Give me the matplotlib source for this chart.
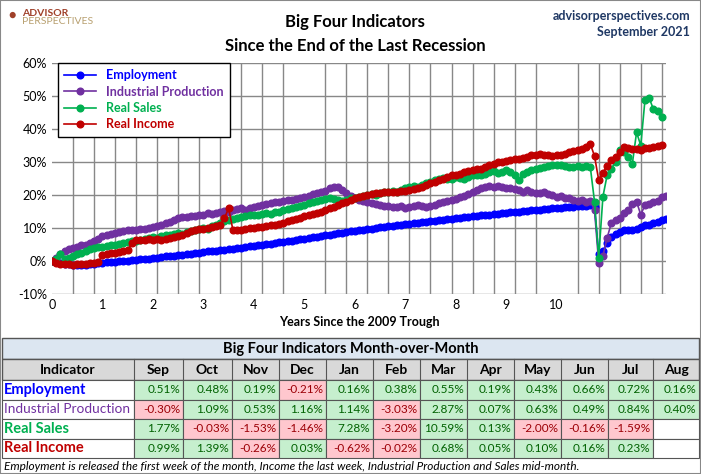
import matplotlib
matplotlib.use("Agg")
import matplotlib.pyplot as plt
import matplotlib.patches as mpatches
import numpy as np

plt.rcParams['font.family'] = ['Lato', 'DejaVu Sans']

# monthly % change since June 2009 trough (month 0 = Jun 2009)
employment = [
    0, -0.3, -0.5, -0.8, -1.0, -1.1, -1.2, -1.2, -1.1, -0.9, -0.9, -0.6,
    -0.5, -0.4, -0.3, -0.2, -0.1, 0.0, 0.1, 0.3, 0.4, 0.5, 0.6, 0.7,
    0.9, 1.0, 1.2, 1.4, 1.5, 1.6, 1.8, 1.9, 2.0, 2.2, 2.4, 2.5,
    2.7, 2.9, 3.0, 3.1, 3.3, 3.4, 3.6, 3.7, 3.9, 4.0, 4.2, 4.4,
    4.5, 4.7, 4.9, 5.1, 5.3, 5.5, 5.7, 5.8, 6.0, 6.2, 6.4, 6.6,
    6.8, 7.0, 7.2, 7.4, 7.6, 7.8, 8.0, 8.2, 8.4, 8.6, 8.8, 9.0,
    9.2, 9.3, 9.5, 9.7, 9.8, 10.0, 10.2, 10.3, 10.5, 10.6, 10.8, 11.0,
    11.1, 11.3, 11.4, 11.6, 11.7, 11.9, 12.0, 12.2, 12.3, 12.5, 12.6, 12.8,
    12.9, 13.0, 13.2, 13.3, 13.5, 13.6, 13.8, 13.9, 14.0, 14.2, 14.3, 14.5,
    14.6, 14.7, 14.9, 15.0, 15.1, 15.2, 15.4, 15.5, 15.6, 15.8, 15.9, 16.0,
    16.1, 16.2, 16.3, 16.4, 16.5, 16.6, 16.7, 16.8, 16.9,
    16.3, 2.0, 3.0, 5.5, 7.4, 8.3, 8.8, 9.3, 9.5, 9.4, 9.8, 10.3, 10.8, 11.0,
    11.4, 11.9, 12.4, 12.6,
]
industrial = [
    0, 1.0, 2.2, 3.0, 3.5, 3.8, 4.2, 4.8, 5.0, 5.5, 6.2, 6.8,
    7.5, 8.0, 8.3, 8.6, 8.8, 9.2, 9.4, 9.5, 9.3, 9.6, 9.8, 10.0,
    10.2, 10.5, 11.0, 11.5, 11.8, 12.5, 13.0, 13.2, 13.4, 13.6, 13.5, 13.8,
    14.0, 14.5, 14.2, 14.6, 15.0, 15.2, 15.0, 15.5, 15.8, 16.0, 15.5, 16.2,
    16.5, 16.8, 17.0, 17.2, 17.5, 17.8, 18.0, 18.2, 18.5, 18.5, 18.8, 19.0,
    19.3, 19.8, 20.2, 20.5, 20.8, 21.2, 22.0, 22.5, 22.3, 21.5, 20.5, 19.8,
    19.0, 18.5, 18.2, 18.0, 17.6, 17.3, 17.0, 16.8, 16.6, 16.5, 16.3, 16.6,
    16.2, 16.5, 16.8, 17.0, 16.6, 16.5, 16.8, 17.0, 17.5, 18.0, 18.2, 18.5,
    18.8, 19.5, 19.8, 20.2, 20.8, 21.5, 22.0, 22.5, 22.8, 22.5, 22.8, 22.5,
    22.2, 22.0, 21.8, 21.5, 21.0, 21.5, 21.0, 20.5, 20.5, 20.8, 20.3, 20.0,
    19.5, 19.8, 19.2, 19.0, 18.5, 18.2, 18.5, 18.0, 18.2,
    15.5, -0.6, 1.5, 7.0, 11.5, 12.5, 13.0, 14.5, 15.5, 17.3, 18.0, 14.0,
    17.0, 17.3, 17.8, 18.3, 19.3, 19.8,
]
real_sales = [
    0, 0.5, 2.2, 0.5, 1.0, 1.5, 2.0, 2.5, 3.0, 3.5, 4.0, 4.2,
    4.3, 4.5, 4.8, 5.0, 5.2, 5.5, 5.8, 6.0, 6.2, 6.4, 6.6, 7.0,
    7.2, 7.0, 7.5, 7.8, 8.0, 8.2, 8.5, 8.3, 8.8, 9.0, 9.5, 9.8,
    10.0, 9.8, 10.5, 10.8, 11.5, 12.0, 12.5, 12.8, 13.0, 13.2, 13.5, 13.8,
    14.0, 13.8, 14.2, 14.5, 14.3, 14.8, 15.0, 15.5, 15.8, 16.0, 16.5, 16.8,
    17.0, 17.5, 18.0, 18.2, 18.5, 18.8, 19.0, 18.8, 18.5, 18.2, 18.5, 19.0,
    19.0, 19.5, 19.8, 20.0, 20.2, 20.0, 20.5, 20.8, 21.0, 21.2, 21.0, 21.5,
    22.0, 22.5, 22.8, 22.5, 23.0, 23.5, 24.0, 24.5, 25.0, 25.2, 24.8, 25.0,
    25.5, 25.2, 25.0, 25.5, 26.0, 26.2, 26.0, 26.5, 27.0, 27.2, 26.8, 27.0,
    27.5, 27.0, 26.0, 24.5, 26.5, 27.0, 27.5, 28.0, 28.2, 28.5, 28.8, 29.0,
    29.2, 29.0, 28.8, 28.5, 28.6, 28.8, 28.5, 28.7, 28.5,
    18.0, 1.0, 19.5, 26.0, 28.0, 30.0, 33.5, 33.0, 31.5, 29.5, 39.0, 35.0,
    48.8, 49.4, 46.0, 45.5, 43.6, np.nan,
]
real_income = [
    0, -0.5, -0.8, -1.0, -1.0, -1.2, -1.0, -0.8, -1.0, -0.6, -0.5, -0.3,
    1.8, 2.0, 2.3, 2.5, 2.8, 3.0, 3.2, 5.5, 6.5, 6.3, 6.5, 6.8,
    6.5, 6.8, 6.5, 6.8, 7.0, 7.2, 7.5, 8.0, 8.5, 9.0, 9.5, 9.8,
    9.8, 10.0, 10.2, 10.5, 10.8, 13.0, 16.0, 9.5, 9.3, 9.5, 9.8, 10.0,
    10.0, 10.2, 10.3, 10.5, 10.8, 11.0, 11.2, 11.5, 12.0, 12.5, 12.8, 13.0,
    13.5, 13.8, 14.2, 14.5, 15.0, 15.5, 16.0, 16.5, 17.0, 17.5, 18.0, 18.5,
    19.0, 19.5, 19.8, 20.0, 20.2, 20.5, 20.5, 20.8, 20.8, 21.0, 21.0, 21.2,
    21.2, 21.5, 21.8, 22.0, 22.5, 23.0, 23.5, 24.0, 24.5, 25.0, 25.5, 26.0,
    26.2, 26.5, 27.0, 27.2, 27.5, 27.8, 28.0, 28.5, 29.0, 29.5, 30.0, 30.0,
    30.2, 30.5, 30.8, 31.0, 31.2, 31.5, 32.0, 32.2, 32.5, 32.2, 32.0, 31.8,
    32.0, 32.2, 32.5, 33.0, 33.2, 33.5, 34.0, 34.5, 35.5,
    31.8, 24.5, 26.8, 28.8, 30.6, 31.5, 33.0, 34.6, 34.2, 33.8, 34.0, 33.6,
    34.2, 34.2, 34.5, 34.8, 35.2, np.nan,
]

months = ["Sep", "Oct", "Nov", "Dec", "Jan", "Feb", "Mar", "Apr", "May", "Jun", "Jul", "Aug"]
indicators = ["Employment", "Industrial Production", "Real Sales", "Real Income"]
mom = [
    [0.51, 0.48, 0.19, -0.21, 0.16, 0.38, 0.55, 0.19, 0.43, 0.66, 0.72, 0.16],
    [-0.30, 1.09, 0.53, 1.16, 1.14, -3.03, 2.87, 0.07, 0.63, 0.49, 0.84, 0.40],
    [1.77, -0.03, -1.53, -1.46, 7.28, -3.20, 10.59, 0.13, -2.00, -0.16, -1.59, None],
    [0.99, 1.39, -0.26, 0.03, -0.62, -0.02, 0.68, 0.05, 0.10, 0.16, 0.23, None],
]

colors = ["#0000ff", "#7030a0", "#00b050", "#c00000"]
W, H = 701, 474
fig = plt.figure(figsize=(W / 100, H / 100), dpi=100)


def fx(px):
    return px / W


def fy(py):
    return 1 - py / H


# border
fig.patches.append(mpatches.Rectangle((0, 0), 1, 1, transform=fig.transFigure,
                                      fill=False, edgecolor="#888888", linewidth=1.5))

ax = fig.add_axes([fx(52), fy(294), fx(666 - 52), fy(63) - fy(294)])
years = np.arange(len(employment)) / 12
series = [employment, industrial, real_sales, real_income]
for name, vals, c in zip(indicators, series, colors):
    ax.plot(years, vals, color=c, marker="o", markersize=4.8, linewidth=1.2, label=name)

ax.set_xlim(0, 146 / 12)
ax.set_ylim(-10, 60)
ax.set_yticks(range(-10, 61, 10))
ax.set_yticklabels([f"{v}%" for v in range(-10, 61, 10)], fontsize=9)
ax.set_xticks(range(0, 11))
ax.set_xticklabels([str(i) for i in range(0, 11)], fontsize=9)
ax.set_xticks(np.arange(0, 146 / 12 + 0.01, 5 / 12), minor=True)
ax.tick_params(which="both", length=0)
ax.grid(which="minor", axis="x", color="#888888", linewidth=1)
ax.grid(which="major", axis="y", color="#888888", linewidth=1)
ax.grid(which="major", axis="x", visible=False)
for s in ax.spines.values():
    s.set_visible(False)
ax.set_xlabel("Years Since the 2009 Trough", fontsize=9, fontweight="bold", labelpad=4)
leg = ax.legend(loc="upper left", bbox_to_anchor=(0.01, 1.0), fontsize=9, frameon=True,
                fancybox=False, edgecolor="black", borderaxespad=0, handlelength=2.5,
                labelspacing=0.35, borderpad=0.5, framealpha=1)
leg.get_frame().set_linewidth(1)
for t, c in zip(leg.get_texts(), colors):
    t.set_color(c)
    t.set_fontweight("bold")

# titles
fig.text(fx(355), fy(22), "Big Four Indicators", fontsize=12, fontweight="bold", ha="center", va="center")
fig.text(fx(355), fy(46), "Since the End of the Last Recession", fontsize=12, fontweight="bold",
         ha="center", va="center")
fig.text(fx(690), fy(16), "advisorperspectives.com", fontsize=9, fontweight="bold", color="#1f3864",
         ha="right", va="center")
fig.text(fx(690), fy(32), "September 2021", fontsize=9, fontweight="bold", color="#1f3864",
         ha="right", va="center")
fig.text(fx(12), fy(15), "\u25CF", fontsize=9, color="#a0402a", ha="center", va="center")
fig.text(fx(22), fy(13), "ADVISOR", fontsize=7.5, fontweight="bold", color="#a0402a", va="center")
fig.text(fx(22), fy(22), "PERSPECTIVES", fontsize=7.5, color="#b8a070", va="center")

# table
tax = fig.add_axes([0, 0, 1, 1])
tax.set_xlim(0, W)
tax.set_ylim(H, 0)
tax.axis("off")
col_x = [2, 134, 183, 232, 279, 326, 373, 420, 467, 514, 561, 608, 653, 699]
top = 338
row_h = 21
tax.add_patch(mpatches.Rectangle((2, top), 697, row_h, facecolor="#dce6f1", edgecolor="#555555"))
tax.text(W / 2, top + row_h / 2, "Big Four Indicators Month-over-Month", ha="center", va="center",
         fontsize=10.5, fontweight="bold")
y = top + row_h
tax.add_patch(mpatches.Rectangle((2, y), 697, row_h, facecolor="#d9d9d9", edgecolor="#555555"))
tax.text((col_x[0] + col_x[1]) / 2, y + row_h / 2, "Indicator", ha="center", va="center",
         fontsize=10, fontweight="bold")
for j, m in enumerate(months):
    tax.add_line(plt.Line2D([col_x[j + 1]] * 2, [y, y + row_h], color="#555555", linewidth=0.8))
    tax.text((col_x[j + 1] + col_x[j + 2]) / 2, y + row_h / 2, m, ha="center", va="center",
             fontsize=10, fontweight="bold")
y += row_h
rh = 19.5
for i, (name, vals) in enumerate(zip(indicators, mom)):
    tax.add_patch(mpatches.Rectangle((col_x[0], y), col_x[1] - col_x[0], rh, facecolor="white",
                                     edgecolor="#555555", linewidth=0.8))
    tax.text(col_x[0] + 2, y + rh / 2, name, ha="left", va="center", fontsize=10.5 if i != 1 else 9.8,
             fontweight="bold" if i != 1 else "normal", color=colors[i])
    for j, v in enumerate(vals):
        fc = "white" if v is None else ("#c6efce" if v >= 0 else "#ffc7ce")
        tax.add_patch(mpatches.Rectangle((col_x[j + 1], y), col_x[j + 2] - col_x[j + 1], rh,
                                         facecolor=fc, edgecolor="#555555", linewidth=0.8))
        if v is not None:
            tax.text(col_x[j + 2] - 3, y + rh / 2, f"{v:.2f}%", ha="right", va="center",
                     fontsize=8.5, color="#006100" if v >= 0 else "#9c0006")
    y += rh
tax.text(4, 466, "Employment is released the first week of the month, Income the last week, "
         "Industrial Production and Sales mid-month.", fontsize=8.5, style="italic", va="center")

fig.savefig("out.png", dpi=100)
